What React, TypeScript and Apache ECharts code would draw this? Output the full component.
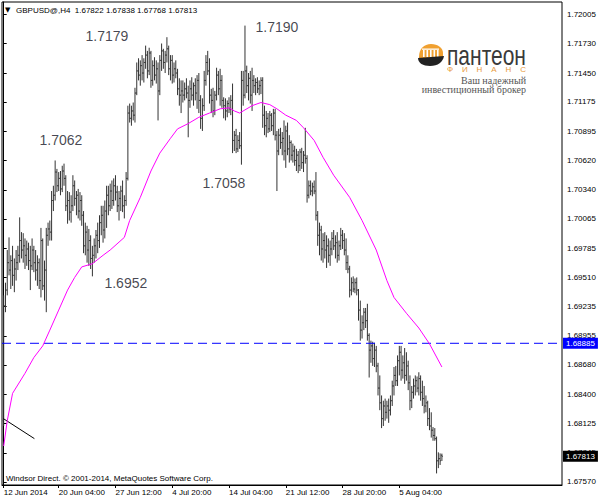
import React, { useEffect, useRef } from 'react';
import * as echarts from 'echarts';

const symbolName = 'GBPUSD@,H4';

const opens = [
  1.6815, 1.6924, 1.6939, 1.6965, 1.6958, 1.6967, 1.6953, 1.6959, 1.6965, 1.6972,
  1.6986, 1.6977, 1.6981, 1.6972, 1.6978, 1.6967, 1.6962, 1.6977, 1.6965, 1.6958,
  1.6965, 1.6948, 1.6986, 1.6943, 1.6958, 1.6991, 1.6997, 1.6994, 1.7024, 1.7029,
  1.7051, 1.7038, 1.7045, 1.7035, 1.7052, 1.7045, 1.7019, 1.7024, 1.7013, 1.7019,
  1.7038, 1.7026, 1.7029, 1.7014, 1.7024, 1.7010, 1.6981, 1.6994, 1.6977, 1.6986,
  1.6969, 1.6972, 1.6981, 1.6991, 1.6986, 1.7003, 1.7010, 1.6996, 1.7014, 1.7029,
  1.7019, 1.7033, 1.7024, 1.7038, 1.7032, 1.7019, 1.7026, 1.7033, 1.7019, 1.7024,
  1.7045, 1.7107, 1.7102, 1.7109, 1.7105, 1.7126, 1.7147, 1.7143, 1.7152, 1.7145,
  1.7155, 1.7162, 1.7147, 1.7164, 1.7138, 1.7152, 1.7143, 1.7149, 1.7128, 1.7157,
  1.7166, 1.7155, 1.7162, 1.7168, 1.7149, 1.7157, 1.7143, 1.7149, 1.7145, 1.7130,
  1.7124, 1.7128, 1.7124, 1.7130, 1.7126, 1.7119, 1.7130, 1.7124, 1.7133, 1.7126,
  1.7138, 1.7119, 1.7102, 1.7114, 1.7138, 1.7155, 1.7147, 1.7124, 1.7119, 1.7109,
  1.7124, 1.7143, 1.7130, 1.7138, 1.7119, 1.7114, 1.7109, 1.7116, 1.7111, 1.7119,
  1.7081, 1.7086, 1.7073, 1.7081, 1.7076, 1.7138, 1.7124, 1.7147, 1.7133, 1.7140,
  1.7124, 1.7138, 1.7133, 1.7136, 1.7130, 1.7133, 1.7138, 1.7105, 1.7095, 1.7102,
  1.7092, 1.7105, 1.7095, 1.7107, 1.7086, 1.7071, 1.7086, 1.7079, 1.7083, 1.7071,
  1.7090, 1.7073, 1.7079, 1.7067, 1.7071, 1.7062, 1.7067, 1.7057, 1.7070, 1.7060,
  1.7067, 1.7064, 1.7029, 1.7038, 1.7033, 1.7037, 1.7033, 1.7010, 1.6991, 1.6996,
  1.6978, 1.6986, 1.6977, 1.6981, 1.6972, 1.6978, 1.6988, 1.6981, 1.6984, 1.6972,
  1.6981, 1.6991, 1.6986, 1.6977, 1.6965, 1.6959, 1.6939, 1.6946, 1.6940, 1.6946,
  1.6939, 1.6920, 1.6901, 1.6908, 1.6918, 1.6910, 1.6896, 1.6882, 1.6886, 1.6874,
  1.6882, 1.6867, 1.6846, 1.6832, 1.6817, 1.6829, 1.6823, 1.6829, 1.6825, 1.6834,
  1.6848, 1.6858, 1.6853, 1.6872, 1.6880, 1.6863, 1.6870, 1.6858, 1.6867, 1.6851,
  1.6834, 1.6842, 1.6848, 1.6853, 1.6846, 1.6855, 1.6842, 1.6836, 1.6829, 1.6832,
  1.6817, 1.6810, 1.6806, 1.6801, 1.6798, 1.6777, 1.6779, 1.67822,
];
const highs = [
  1.6934, 1.6946, 1.6977, 1.6989, 1.6972, 1.6981, 1.6969, 1.6977, 1.6981, 1.7008,
  1.6994, 1.6993, 1.6988, 1.6986, 1.6984, 1.6981, 1.6988, 1.6981, 1.6977, 1.6972,
  1.6969, 1.6998, 1.6988, 1.6967, 1.6998, 1.7003, 1.7005, 1.7033, 1.7038, 1.7062,
  1.7054, 1.7051, 1.7052, 1.7057, 1.7059, 1.7048, 1.7033, 1.7032, 1.7029, 1.7048,
  1.7043, 1.7033, 1.7035, 1.7032, 1.7029, 1.7014, 1.7003, 1.7000, 1.6997, 1.6991,
  1.6981, 1.6988, 1.6996, 1.7003, 1.7010, 1.7019, 1.7019, 1.7024, 1.7038, 1.7038,
  1.7040, 1.7043, 1.7045, 1.7048, 1.7038, 1.7033, 1.7038, 1.7043, 1.7029, 1.7051,
  1.7114, 1.7116, 1.7114, 1.7117, 1.7131, 1.7155, 1.7159, 1.7157, 1.7162, 1.7159,
  1.7171, 1.7166, 1.7169, 1.7166, 1.7157, 1.7160, 1.7157, 1.7155, 1.7162, 1.7173,
  1.7168, 1.7166, 1.7179, 1.7171, 1.7162, 1.7162, 1.7155, 1.7157, 1.7149, 1.7140,
  1.7138, 1.7138, 1.7136, 1.7140, 1.7133, 1.7138, 1.7141, 1.7136, 1.7140, 1.7143,
  1.7145, 1.7124, 1.7121, 1.7147, 1.7162, 1.7166, 1.7159, 1.7130, 1.7131, 1.7128,
  1.7150, 1.7147, 1.7149, 1.7143, 1.7122, 1.7121, 1.7119, 1.7122, 1.7124, 1.7135,
  1.7090, 1.7092, 1.7086, 1.7089, 1.7147, 1.7147, 1.7190, 1.7152, 1.7145, 1.7147,
  1.7150, 1.7143, 1.7140, 1.7141, 1.7138, 1.7141, 1.7141, 1.7114, 1.7109, 1.7107,
  1.7109, 1.7107, 1.7111, 1.7111, 1.7090, 1.7092, 1.7093, 1.7089, 1.7100, 1.7095,
  1.7098, 1.7086, 1.7081, 1.7078, 1.7076, 1.7073, 1.7071, 1.7073, 1.7074, 1.7071,
  1.7093, 1.7067, 1.7043, 1.7043, 1.7041, 1.7043, 1.7051, 1.7014, 1.7003, 1.7000,
  1.6993, 1.6994, 1.6991, 1.6988, 1.6986, 1.6994, 1.6996, 1.6991, 1.6994, 1.6986,
  1.6998, 1.6996, 1.6993, 1.6988, 1.6972, 1.6962, 1.6951, 1.6952, 1.6950, 1.6951,
  1.6940, 1.6929, 1.6915, 1.6922, 1.6922, 1.6926, 1.6898, 1.6891, 1.6890, 1.6889,
  1.6886, 1.6870, 1.6858, 1.6839, 1.6834, 1.6836, 1.6834, 1.6836, 1.6839, 1.6853,
  1.6866, 1.6867, 1.6877, 1.6886, 1.6886, 1.6877, 1.6884, 1.6880, 1.6872, 1.6858,
  1.6848, 1.6855, 1.6858, 1.6857, 1.6861, 1.6858, 1.6853, 1.6848, 1.6839, 1.6834,
  1.6827, 1.6823, 1.6809, 1.6808, 1.6800, 1.6785, 1.6784, 1.67838,
];
const lows = [
  1.6810, 1.6918, 1.6934, 1.6953, 1.6940, 1.6943, 1.6937, 1.6948, 1.6958, 1.6965,
  1.6969, 1.6965, 1.6959, 1.6962, 1.6958, 1.6939, 1.6958, 1.6956, 1.6948, 1.6943,
  1.6940, 1.6932, 1.6939, 1.6929, 1.6918, 1.6981, 1.6986, 1.6986, 1.7014, 1.7024,
  1.7032, 1.7033, 1.7029, 1.7032, 1.7038, 1.7014, 1.7002, 1.7005, 1.7003, 1.7014,
  1.7019, 1.7010, 1.7007, 1.7005, 1.7000, 1.6974, 1.6972, 1.6965, 1.6962, 1.6959,
  1.6952, 1.6965, 1.6969, 1.6974, 1.6979, 1.6991, 1.6984, 1.6988, 1.6998, 1.7010,
  1.7014, 1.7016, 1.7019, 1.7024, 1.7013, 1.7005, 1.7014, 1.7013, 1.7007, 1.7019,
  1.7043, 1.7098, 1.7095, 1.7100, 1.7098, 1.7124, 1.7138, 1.7133, 1.7138, 1.7136,
  1.7149, 1.7140, 1.7143, 1.7131, 1.7133, 1.7138, 1.7135, 1.7100, 1.7124, 1.7147,
  1.7149, 1.7145, 1.7155, 1.7143, 1.7138, 1.7135, 1.7136, 1.7140, 1.7124, 1.7114,
  1.7107, 1.7117, 1.7119, 1.7121, 1.7084, 1.7112, 1.7119, 1.7114, 1.7119, 1.7111,
  1.7107, 1.7092, 1.7090, 1.7109, 1.7133, 1.7143, 1.7116, 1.7107, 1.7103, 1.7105,
  1.7119, 1.7124, 1.7114, 1.7112, 1.7102, 1.7100, 1.7103, 1.7107, 1.7105, 1.7069,
  1.7071, 1.7069, 1.7070, 1.7073, 1.7058, 1.7114, 1.7121, 1.7126, 1.7119, 1.7116,
  1.7109, 1.7126, 1.7124, 1.7126, 1.7124, 1.7125, 1.7093, 1.7086, 1.7084, 1.7088,
  1.7089, 1.7090, 1.7086, 1.7081, 1.7033, 1.7067, 1.7073, 1.7067, 1.7062, 1.7055,
  1.7067, 1.7060, 1.7062, 1.7060, 1.7057, 1.7052, 1.7050, 1.7052, 1.7054, 1.7051,
  1.7059, 1.7022, 1.7026, 1.7029, 1.7028, 1.7030, 1.7005, 1.6981, 1.6972, 1.6967,
  1.6965, 1.6969, 1.6960, 1.6965, 1.6962, 1.6972, 1.6977, 1.6969, 1.6965, 1.6967,
  1.6977, 1.6978, 1.6972, 1.6958, 1.6955, 1.6932, 1.6934, 1.6937, 1.6936, 1.6934,
  1.6910, 1.6891, 1.6893, 1.6901, 1.6903, 1.6891, 1.6856, 1.6870, 1.6867, 1.6866,
  1.6861, 1.6839, 1.6825, 1.6808, 1.6810, 1.6815, 1.6817, 1.6813, 1.6820, 1.6829,
  1.6839, 1.6848, 1.6848, 1.6858, 1.6853, 1.6855, 1.6850, 1.6853, 1.6844, 1.6825,
  1.6827, 1.6836, 1.6839, 1.6842, 1.6839, 1.6834, 1.6829, 1.6822, 1.6823, 1.6810,
  1.6806, 1.6799, 1.6796, 1.6796, 1.6765, 1.6770, 1.6773, 1.67768,
];
const closes = [
  1.6924, 1.6939, 1.6965, 1.6958, 1.6967, 1.6953, 1.6959, 1.6965, 1.6972, 1.6986,
  1.6977, 1.6981, 1.6972, 1.6978, 1.6967, 1.6962, 1.6977, 1.6965, 1.6958, 1.6965,
  1.6948, 1.6986, 1.6943, 1.6958, 1.6991, 1.6997, 1.6994, 1.7024, 1.7029, 1.7051,
  1.7038, 1.7045, 1.7035, 1.7052, 1.7045, 1.7019, 1.7024, 1.7013, 1.7019, 1.7038,
  1.7026, 1.7029, 1.7014, 1.7024, 1.7010, 1.6981, 1.6994, 1.6977, 1.6986, 1.6969,
  1.6972, 1.6981, 1.6991, 1.6986, 1.7003, 1.7010, 1.6996, 1.7014, 1.7029, 1.7019,
  1.7033, 1.7024, 1.7038, 1.7032, 1.7019, 1.7026, 1.7033, 1.7019, 1.7024, 1.7045,
  1.7107, 1.7102, 1.7109, 1.7105, 1.7126, 1.7147, 1.7143, 1.7152, 1.7145, 1.7155,
  1.7162, 1.7147, 1.7164, 1.7138, 1.7152, 1.7143, 1.7149, 1.7128, 1.7157, 1.7166,
  1.7155, 1.7162, 1.7168, 1.7149, 1.7157, 1.7143, 1.7149, 1.7145, 1.7130, 1.7124,
  1.7128, 1.7124, 1.7130, 1.7126, 1.7119, 1.7130, 1.7124, 1.7133, 1.7126, 1.7138,
  1.7119, 1.7102, 1.7114, 1.7138, 1.7155, 1.7147, 1.7124, 1.7119, 1.7109, 1.7124,
  1.7143, 1.7130, 1.7138, 1.7119, 1.7114, 1.7109, 1.7116, 1.7111, 1.7119, 1.7081,
  1.7086, 1.7073, 1.7081, 1.7076, 1.7138, 1.7124, 1.7147, 1.7133, 1.7140, 1.7124,
  1.7138, 1.7133, 1.7136, 1.7130, 1.7133, 1.7138, 1.7105, 1.7095, 1.7102, 1.7092,
  1.7105, 1.7095, 1.7107, 1.7086, 1.7071, 1.7086, 1.7079, 1.7083, 1.7071, 1.7090,
  1.7073, 1.7079, 1.7067, 1.7071, 1.7062, 1.7067, 1.7057, 1.7070, 1.7060, 1.7067,
  1.7064, 1.7029, 1.7038, 1.7033, 1.7037, 1.7033, 1.7010, 1.6991, 1.6996, 1.6978,
  1.6986, 1.6977, 1.6981, 1.6972, 1.6978, 1.6988, 1.6981, 1.6984, 1.6972, 1.6981,
  1.6991, 1.6986, 1.6977, 1.6965, 1.6959, 1.6939, 1.6946, 1.6940, 1.6946, 1.6939,
  1.6920, 1.6901, 1.6908, 1.6918, 1.6910, 1.6896, 1.6882, 1.6886, 1.6874, 1.6882,
  1.6867, 1.6846, 1.6832, 1.6817, 1.6829, 1.6823, 1.6829, 1.6825, 1.6834, 1.6848,
  1.6858, 1.6853, 1.6872, 1.6880, 1.6863, 1.6870, 1.6858, 1.6867, 1.6851, 1.6834,
  1.6842, 1.6848, 1.6853, 1.6846, 1.6855, 1.6842, 1.6836, 1.6829, 1.6832, 1.6817,
  1.6810, 1.6806, 1.6801, 1.6798, 1.6777, 1.6779, 1.6777, 1.67813,
];

const maIdx = [
  0, 2, 5, 12, 17, 22, 26, 31, 36, 40, 44, 50, 56, 60, 68, 71, 77, 83, 88, 94,
  98, 104, 110, 116, 122, 127, 130, 133, 136, 140, 145, 150, 154, 159, 165, 169, 175, 180, 186, 195,
  202, 210, 216, 220, 227, 234, 240, 247,
];
const maVal = [
  1.6791, 1.6815, 1.6841, 1.6860, 1.6875, 1.6886, 1.6901, 1.6920, 1.6939, 1.6951,
  1.6961, 1.6964, 1.6972, 1.6977, 1.6989, 1.7005, 1.7027, 1.7052, 1.7069, 1.7083,
  1.7092, 1.7097, 1.7103, 1.7107, 1.7111, 1.7112, 1.7109, 1.7107, 1.7110, 1.7114,
  1.7117, 1.7115, 1.7111, 1.7105, 1.7100, 1.7093, 1.7081, 1.7065, 1.7048, 1.7027,
  1.7005, 1.6977, 1.6948, 1.6932, 1.6917, 1.6903, 1.6888, 1.6866,
];

const xTickIdx = [0, 31, 63, 95, 127, 159, 191, 223];
const xTickLabels = ['12 Jun 2014', '20 Jun 04:00', '27 Jun 12:00', '4 Jul 20:00', '14 Jul 04:00', '21 Jul 12:00', '28 Jul 20:00', '5 Aug 04:00'];
const yTickLabels = ['1.67570', '1.67845', '1.68125', '1.68400', '1.68680', '1.68955', '1.69235', '1.69510', '1.69785', '1.70065', '1.70340', '1.70620', '1.70895', '1.71175', '1.71450', '1.71730', '1.72005'];

const levelPrice = 1.68885;

const annotIdx = [45.8, 141.7, 19.9, 111.8, 56.5];
const annotPrice = [1.71806, 1.71882, 1.7081, 1.70406, 1.69457];
const annotText = ['1.7179', '1.7190', '1.7062', '1.7058', '1.6952'];

const trendIdx = [-0.2, 17.3];
const trendPrice = [1.6817, 1.6798];

const X_MIN = -0.96;
const X_MAX = 314.7;

const F = "'Liberation Sans', Arial, 'DejaVu Sans', sans-serif";
const SERIF = "'Liberation Serif', 'DejaVu Serif', serif";

echarts.graphic.registerShape(
  'pantDome',
  echarts.graphic.extendPath('M1 14 C1 6 6 1 13 1 C20 1 25 5 25 10 L25 15 L1 15 Z', {})
);
echarts.graphic.registerShape(
  'pantBase',
  echarts.graphic.extendPath('M0 15 L26 13 C25 19 20 23 12 23 C5 23 0 20 0 15 Z', {})
);

export default function App() {
  const ref = useRef<HTMLDivElement>(null);
  useEffect(() => {
    if (!ref.current) return;
    const chart = echarts.init(ref.current, null, { renderer: 'svg' });
    const last = closes.length - 1;
    const header = `${symbolName}  ${opens[last].toFixed(5)} ${highs[last].toFixed(5)} ${lows[last].toFixed(5)} ${closes[last].toFixed(5)}`;
    const ohlc = opens.map((o, i) => [i, o, highs[i], lows[i], closes[i]]);
    const yTicks = yTickLabels.map(Number);

    const columns = [5, 8.5, 12, 15.5, 19].map((cx) => ({
      type: 'rect',
      x: cx,
      y: 7,
      shape: { x: 0, y: 0, width: 1.6, height: 7 },
      style: { fill: '#fff' },
    }));

    const markerLabel = (bg: string, text: string) => ({
      show: true, position: 'end', distance: 1,
      formatter: text,
      backgroundColor: bg, color: '#fff',
      padding: [2, 3, 1, 3], fontSize: 8, fontFamily: F,
    });

    const option: any = {
      animation: false,
      backgroundColor: '#fff',
      textStyle: { fontFamily: F },
      grid: {
        left: 2, right: 38, top: 2, bottom: 16,
        show: true, borderColor: '#000', borderWidth: 1, backgroundColor: '#fff',
      },
      xAxis: {
        type: 'value',
        min: X_MIN,
        max: X_MAX,
        axisLine: { show: true, lineStyle: { color: '#000', width: 1 } },
        axisTick: { show: true, length: 3, customValues: xTickIdx, lineStyle: { color: '#000' } },
        axisLabel: {
          customValues: xTickIdx,
          formatter: (v: number) => {
            const k = xTickIdx.indexOf(Math.round(v));
            return k >= 0 ? xTickLabels[k] : '';
          },
          align: 'left',
          margin: 3,
          color: '#000',
          fontSize: 8,
          fontFamily: F,
        },
        splitLine: { show: false },
      },
      yAxis: {
        type: 'value',
        position: 'right',
        min: 1.6754,
        max: 1.72124,
        axisLine: { show: true, lineStyle: { color: '#000', width: 1 } },
        axisTick: { show: true, length: 3, customValues: yTicks, lineStyle: { color: '#000' } },
        axisLabel: {
          customValues: yTicks,
          formatter: (v: number) => v.toFixed(5),
          margin: 5,
          color: '#000',
          fontSize: 8,
          fontFamily: F,
        },
        splitLine: { show: false },
      },
      series: [
        {
          type: 'custom',
          silent: true,
          data: ohlc,
          encode: { x: 0, y: [1, 2, 3, 4] },
          renderItem: (params: any, api: any) => {
            const i = api.value(0);
            const pO = api.coord([i, api.value(1)]);
            const pH = api.coord([i, api.value(2)]);
            const pL = api.coord([i, api.value(3)]);
            const pC = api.coord([i, api.value(4)]);
            const x = pH[0];
            const st = { stroke: '#333', lineWidth: 1 };
            return {
              type: 'group',
              children: [
                { type: 'line', shape: { x1: x, y1: pH[1], x2: x, y2: pL[1] }, style: st },
                { type: 'line', shape: { x1: x - 1, y1: pO[1], x2: x, y2: pO[1] }, style: st },
                { type: 'line', shape: { x1: x, y1: pC[1], x2: x + 1, y2: pC[1] }, style: st },
              ],
            };
          },
          z: 2,
        },
        {
          type: 'line',
          silent: true,
          data: [[X_MIN, levelPrice], [X_MAX, levelPrice]],
          showSymbol: false,
          lineStyle: { color: '#0000ff', type: [9, 5], width: 1 },
          z: 3,
          markLine: {
            silent: true,
            precision: 5,
            symbol: ['none', 'none'],
            animation: false,
            lineStyle: { color: 'rgba(0,0,0,0)', width: 0 },
            label: markerLabel('#0000ff', levelPrice.toFixed(5)),
            data: [{ yAxis: levelPrice }],
          },
        },
        {
          type: 'line',
          silent: true,
          data: maIdx.map((v, k) => [v, maVal[k]]),
          showSymbol: false,
          lineStyle: { color: '#ff00ff', width: 1 },
          z: 4,
        },
        {
          type: 'line',
          silent: true,
          data: trendIdx.map((v, k) => [v, trendPrice[k]]),
          showSymbol: false,
          lineStyle: { color: '#000', width: 1 },
          z: 3,
          markLine: {
            silent: true,
            precision: 5,
            symbol: ['none', 'none'],
            animation: false,
            lineStyle: { color: 'rgba(0,0,0,0)', width: 0 },
            label: markerLabel('#000', closes[last].toFixed(5)),
            data: [{ yAxis: closes[last] }],
          },
        },
        {
          type: 'scatter',
          silent: true,
          data: annotIdx.map((v, k) => [v, annotPrice[k], annotText[k]]),
          symbolSize: 1,
          itemStyle: { color: 'rgba(0,0,0,0)' },
          label: {
            show: true,
            position: 'right',
            distance: 0,
            formatter: (p: any) => p.value[2],
            fontSize: 14,
            color: '#151525',
            fontFamily: F,
          },
          z: 5,
        },
      ],
      graphic: [
        { type: 'text', x: 5, y: 10, style: { text: '▼', fontSize: 7, fill: '#000', fontFamily: "'DejaVu Sans', sans-serif", verticalAlign: 'middle' } },
        { type: 'text', x: 16, y: 10, style: { text: header, fontSize: 8, fill: '#000', fontFamily: F, verticalAlign: 'middle' } },
        { type: 'text', x: 6, y: 478, style: { text: 'Windsor Direct. © 2001-2014, MetaQuotes Software Corp.', fontSize: 8, fill: '#000', fontFamily: F, verticalAlign: 'middle' } },
        {
          type: 'group',
          x: 418,
          y: 43,
          children: [
            { type: 'pantDome', style: { fill: '#f0a030' } },
            ...columns,
            { type: 'rect', shape: { x: 4, y: 5.5, width: 17, height: 1.3 }, style: { fill: '#fff' } },
            { type: 'pantBase', style: { fill: '#222' } },
          ],
        },
        { type: 'text', x: 447, y: 55, scaleY: 1.35, style: { text: 'пантеон', fontSize: 21, fill: '#3a3a3a', fontFamily: F, verticalAlign: 'middle' } },
        { type: 'text', x: 447, y: 69, style: { text: 'Ф    И    Н    А    Н    С', fontSize: 8, fill: '#e89a3c', fontFamily: F, verticalAlign: 'middle' } },
        { type: 'text', x: 526, y: 80, style: { text: 'Ваш надежный', fontSize: 10, fill: '#555', fontFamily: SERIF, align: 'right', verticalAlign: 'middle' } },
        { type: 'text', x: 526, y: 89.5, style: { text: 'инвестиционный брокер', fontSize: 10, fill: '#555', fontFamily: SERIF, align: 'right', verticalAlign: 'middle' } },
      ],
    };
    chart.setOption(option);
    return () => chart.dispose();
  }, []);
  return <div ref={ref} style={{ position: 'fixed', left: 0, top: 0, width: 600, height: 501 }} />;
}
